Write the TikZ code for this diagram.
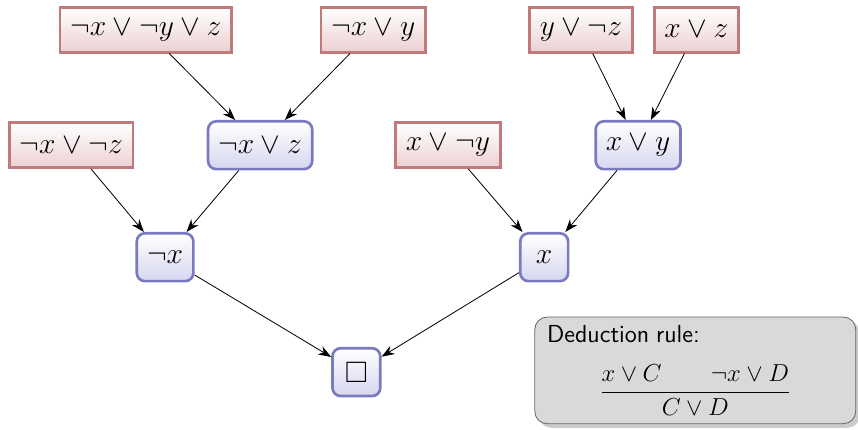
\documentclass[tikz,border=0pt]{standalone}
\usepackage{amsmath,amssymb}
\usetikzlibrary{arrows.meta,shadows}

\definecolor{clauseborder}{RGB}{192,122,122}
\definecolor{clausefill}{RGB}{236,208,210}
\definecolor{resborder}{RGB}{122,122,192}
\definecolor{resfill}{RGB}{214,214,240}

\begin{document}
\begin{tikzpicture}[
    >={Stealth[length=2.2mm, width=1.6mm]},
    clause/.style={draw=clauseborder, line width=1.3pt, top color=white, bottom color=clausefill,
        inner sep=5pt, minimum height=0.77cm, font=\Large},
    resolvent/.style={draw=resborder, line width=1.3pt, rounded corners=4pt, top color=white, bottom color=resfill,
        inner sep=5pt, minimum height=0.82cm, minimum width=0.82cm, font=\Large},
    rulebox/.style={draw=black!60, fill=black!15, rounded corners=6pt, drop shadow={opacity=0.4, shadow xshift=2pt, shadow yshift=-2pt},
        text width=5.08cm, inner xsep=6pt, inner ysep=4pt}
]
    \useasboundingbox (0,0) rectangle (14.71,-7.36);

    % Input clauses
    \node[clause] (nxnyz) at (2.50,-0.51) {$\neg x \vee \neg y \vee z$};
    \node[clause] (nxy)   at (6.40,-0.51) {$\neg x \vee y$};
    \node[clause] (ynz)   at (9.96,-0.51) {$y \vee \neg z$};
    \node[clause] (xz)    at (11.94,-0.51) {$x \vee z$};
    \node[clause] (nxnz)  at (1.22,-2.49) {$\neg x \vee \neg z$};
    \node[clause] (xny)   at (7.68,-2.49) {$x \vee \neg y$};

    % Resolvents
    \node[resolvent] (nxz)   at (4.46,-2.49) {$\neg x \vee z$};
    \node[resolvent] (xy)    at (10.94,-2.49) {$x \vee y$};
    \node[resolvent] (nx)    at (2.83,-4.41) {$\neg x$};
    \node[resolvent] (px)    at (9.33,-4.41) {$x$};
    \node[resolvent] (empty) at (6.11,-6.38) {$\square$};

    % Resolution steps
    \foreach \from/\to in {nxnyz/nxz, nxy/nxz, ynz/xy, xz/xy, nxnz/nx, nxz/nx, xny/px, xy/px, nx/empty, px/empty}
        \draw[->] (\from) -- (\to);

    % Rule
    \node[rulebox] (rule) at (11.92,-6.35) {\large\textsf{Deduction rule:}\par\vspace{10pt}\centering
        $\dfrac{x \vee C \qquad \neg x \vee D}{C \vee D}$\par};
\end{tikzpicture}
\end{document}
